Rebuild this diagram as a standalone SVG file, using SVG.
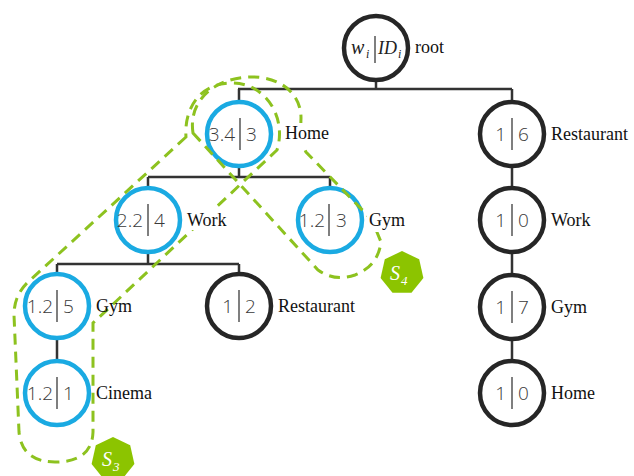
<svg xmlns="http://www.w3.org/2000/svg" width="634" height="476" viewBox="0 0 634 476">
  <style>
    .edge { fill: none; stroke: #333333; stroke-width: 2.5; }
    .ring { fill: #ffffff; stroke-width: 4.5; }
    .blue { stroke: #1aaae2; }
    .dark { stroke: #262626; }
    .sep { stroke: #555555; stroke-width: 1.5; }
    .num { font-family: "Open Sans", "Noto Sans", sans-serif; font-weight: 300; font-size: 19px; fill: #3a3a3a; }
    .lbl { font-family: "Liberation Serif", "Times New Roman", serif; font-size: 18px; fill: #111111; }
    .math { font-family: "Liberation Serif", "Times New Roman", serif; font-style: italic; fill: #222222; }
    .set { fill: none; stroke: #8dc21f; stroke-width: 3; stroke-dasharray: 11 7; }
    .badge { fill: #8cc400; }
    .btxt { font-family: "Liberation Serif", "Times New Roman", serif; font-style: italic; fill: #ffffff; }
    .bg { fill: #ffffff; }
  </style>
  <defs>
    <!-- regular heptagon, r = 22, vertex up -->
    <polygon id="hept" points="0,-22 17.2,-13.7 21.4,4.9 9.5,19.8 -9.5,19.8 -21.4,4.9 -17.2,-13.7"/>
  </defs>

  <!-- tree connectors -->
  <g id="connectors">
    <path class="edge" d="M376,82 V89 M238,89 H512 M239,89 V100 M512,89 V100
                          M239,168 V177 M148,177 H330 M148,177 V186 M330,177 V186
                          M148,254 V264 M57,264 H239 M57,264 V272 M239,264 V272
                          M57,340 V359
                          M512,168 V186 M512,254 V273 M512,341 V359"/>
  </g>

  <!-- nodes -->
  <g id="root">
    <circle class="ring dark" cx="376" cy="48" r="32"/>
    <line class="sep" x1="375" y1="36" x2="375" y2="63"/>
    <text class="math" x="351" y="54" font-size="20">w</text>
    <text class="math" x="366" y="58" font-size="12">i</text>
    <text class="math" x="378" y="54" font-size="18">ID</text>
    <text class="math" x="398" y="58" font-size="12">i</text>
  </g>
  <g id="home">
    <circle class="ring blue" cx="239" cy="134" r="32"/>
    <line class="sep" x1="240" y1="118" x2="240" y2="150"/>
    <text class="num" x="235" y="141" text-anchor="end">3.4</text>
    <text class="num" x="246" y="141">3</text>
  </g>
  <g id="restaurant-a">
    <circle class="ring dark" cx="512" cy="134" r="32"/>
    <line class="sep" x1="512" y1="118" x2="512" y2="150"/>
    <text class="num" x="506" y="141" text-anchor="end">1</text>
    <text class="num" x="518" y="141">6</text>
  </g>
  <g id="work-a">
    <circle class="ring blue" cx="148" cy="220" r="32"/>
    <line class="sep" x1="148" y1="204" x2="148" y2="236"/>
    <text class="num" x="143" y="227" text-anchor="end">2.2</text>
    <text class="num" x="154" y="227">4</text>
  </g>
  <g id="gym-a">
    <circle class="ring blue" cx="330" cy="220" r="32"/>
    <line class="sep" x1="329" y1="204" x2="329" y2="236"/>
    <text class="num" x="325" y="227" text-anchor="end">1.2</text>
    <text class="num" x="336" y="227">3</text>
  </g>
  <g id="gym-b">
    <circle class="ring blue" cx="57" cy="306" r="32"/>
    <line class="sep" x1="57" y1="290" x2="57" y2="322"/>
    <text class="num" x="53" y="313" text-anchor="end">1.2</text>
    <text class="num" x="63" y="313">5</text>
  </g>
  <g id="restaurant-b">
    <circle class="ring dark" cx="239" cy="306" r="32"/>
    <line class="sep" x1="239" y1="290" x2="239" y2="322"/>
    <text class="num" x="233" y="313" text-anchor="end">1</text>
    <text class="num" x="245" y="313">2</text>
  </g>
  <g id="cinema">
    <circle class="ring blue" cx="57" cy="393" r="32"/>
    <line class="sep" x1="57" y1="377" x2="57" y2="409"/>
    <text class="num" x="53" y="400" text-anchor="end">1.2</text>
    <text class="num" x="63" y="400">1</text>
  </g>
  <g id="work-b">
    <circle class="ring dark" cx="512" cy="220" r="32"/>
    <line class="sep" x1="512" y1="204" x2="512" y2="236"/>
    <text class="num" x="506" y="227" text-anchor="end">1</text>
    <text class="num" x="518" y="227">0</text>
  </g>
  <g id="gym-c">
    <circle class="ring dark" cx="512" cy="307" r="32"/>
    <line class="sep" x1="512" y1="291" x2="512" y2="323"/>
    <text class="num" x="506" y="314" text-anchor="end">1</text>
    <text class="num" x="518" y="314">7</text>
  </g>
  <g id="home-b">
    <circle class="ring dark" cx="512" cy="393" r="32"/>
    <line class="sep" x1="512" y1="377" x2="512" y2="409"/>
    <text class="num" x="506" y="400" text-anchor="end">1</text>
    <text class="num" x="518" y="400">0</text>
  </g>

  <!-- dashed sets -->
  <g id="set-s3">
    <path class="set" d="M186,137 L27,283 Q14,296 14,315 L19,432 Q22,462 55,462 Q92,462 93,432 L93,323 L277,150 C287,118 266,83 232,83 C200,83 184,108 186,137 Z"/>
    <use href="#hept" class="badge" x="113" y="459"/>
    <text class="btxt" x="102" y="466" font-size="20">S</text>
    <text class="btxt" x="113" y="471" font-size="13">3</text>
  </g>
  <g id="set-s4">
    <path class="set" d="M193,133 L318,270 Q335,282 355,275 Q378,266 381,242 L372,220 L306,152 Q300,140 301,118 C301,92 278,76 250,77 C215,78 188,100 193,133 Z"/>
    <use href="#hept" class="badge" x="402" y="273"/>
    <text class="btxt" x="390" y="280" font-size="20">S</text>
    <text class="btxt" x="401" y="285" font-size="13">4</text>
  </g>

  <!-- node labels -->
  <g id="labels">
    <text class="lbl" x="415" y="53">root</text>
    <rect class="bg" x="283" y="123" width="50" height="21"/>
    <text class="lbl" x="285" y="139">Home</text>
    <text class="lbl" x="551" y="140">Restaurant</text>
    <rect class="bg" x="185" y="208" width="46" height="22"/>
    <text class="lbl" x="187" y="226">Work</text>
    <rect class="bg" x="367" y="210" width="36" height="22"/>
    <text class="lbl" x="369" y="226">Gym</text>
    <text class="lbl" x="96" y="312">Gym</text>
    <text class="lbl" x="278" y="312">Restaurant</text>
    <text class="lbl" x="96" y="399">Cinema</text>
    <text class="lbl" x="551" y="226">Work</text>
    <text class="lbl" x="551" y="313">Gym</text>
    <text class="lbl" x="551" y="399">Home</text>
  </g>
</svg>
